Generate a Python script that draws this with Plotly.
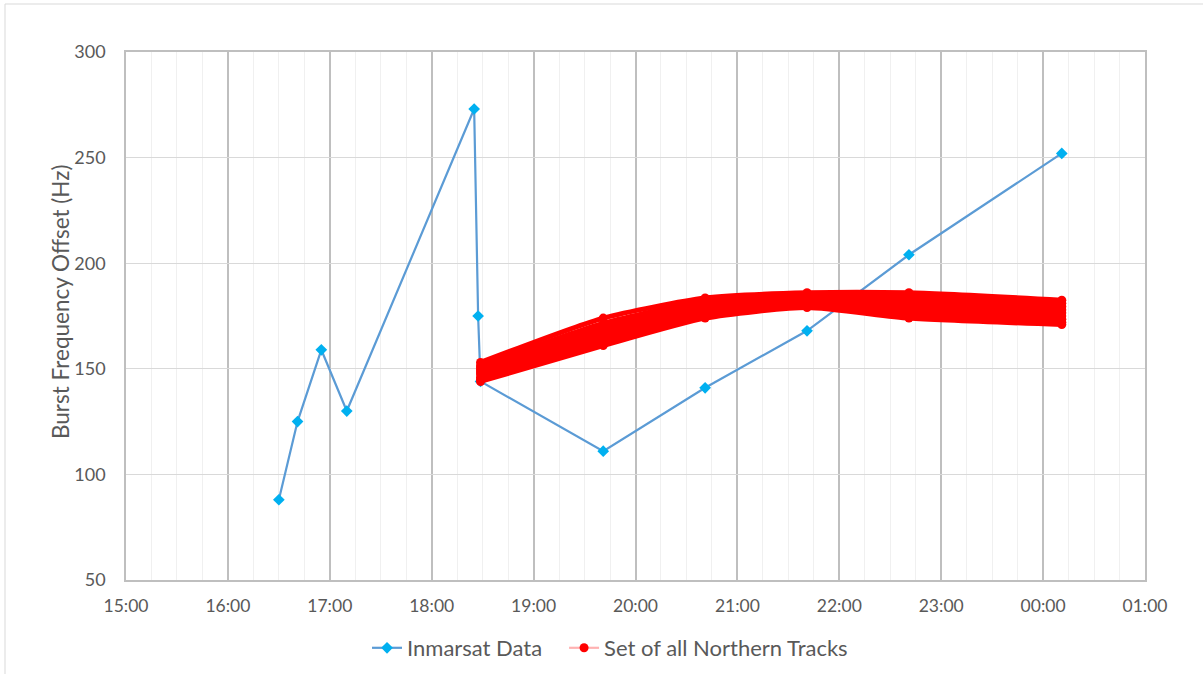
import plotly.graph_objects as go

# ---- Inmarsat data (time, Burst Frequency Offset in Hz) ----
inmarsat_times = [
    "2014-03-07 16:30:00", "2014-03-07 16:41:00", "2014-03-07 16:55:00",
    "2014-03-07 17:10:00", "2014-03-07 18:25:00", "2014-03-07 18:27:20",
    "2014-03-07 18:28:45", "2014-03-07 19:41:00", "2014-03-07 20:41:00",
    "2014-03-07 21:41:00", "2014-03-07 22:41:00", "2014-03-08 00:11:00",
]
inmarsat_bfo = [88, 125, 159, 130, 273, 175, 144, 111, 141, 168, 204, 252]

track_times = [
    "2014-03-07 18:28:45", "2014-03-07 19:41:00", "2014-03-07 20:41:00",
    "2014-03-07 21:41:00", "2014-03-07 22:41:00", "2014-03-08 00:11:00",
]
track_01 = [144.0, 161.0, 174.0, 179.0, 174.0, 171.0]
track_02 = [145.0, 162.5, 175.0, 180.0, 175.5, 172.0]
track_03 = [146.0, 164.0, 176.5, 181.0, 177.0, 173.5]
track_04 = [147.5, 165.5, 177.5, 182.0, 178.5, 175.0]
track_05 = [148.5, 167.0, 178.5, 182.5, 180.0, 176.5]
track_06 = [149.5, 168.5, 179.5, 183.5, 181.5, 178.0]
track_07 = [150.5, 170.0, 180.5, 184.5, 183.0, 179.5]
track_08 = [151.5, 171.5, 182.0, 185.5, 184.5, 181.0]
track_09 = [153.0, 174.0, 183.5, 186.0, 186.0, 182.5]
tracks = [track_01, track_02, track_03, track_04, track_05,
          track_06, track_07, track_08, track_09]

# ---- Axis settings ----
x_start, x_end = "2014-03-07 15:00", "2014-03-08 01:00"
y_min, y_max, y_step = 50, 300, 50
y_title = "Burst Frequency Offset (Hz)"
legend_names = ["Inmarsat Data", "Set of all Northern Tracks"]

FONT = "Lato"
TEXT = "#595959"
NBSP = "\u00a0"

fig = go.Figure()

fig.add_trace(go.Scatter(
    x=inmarsat_times, y=inmarsat_bfo, mode="lines+markers",
    name=legend_names[0] + NBSP * 3,
    line=dict(color="#5b9bd5", width=2.2),
    marker=dict(symbol="diamond", size=9, color="#00b0f0"),
    legendrank=1,
))

for i, tr in enumerate(tracks):
    fig.add_trace(go.Scatter(
        x=track_times, y=tr, mode="lines+markers",
        line=dict(color="#ff0000", width=5, shape="spline", smoothing=0.6),
        marker=dict(symbol="circle", size=9, color="#ff0000"),
        showlegend=False, legendgroup="tracks", hoverinfo="skip",
    ))

# legend entry for the tracks (pale line + red dot, as in the reference)
fig.add_trace(go.Scatter(
    x=[None], y=[None], mode="lines+markers", name=legend_names[1],
    line=dict(color="rgba(255,0,0,0.3)", width=2.2),
    marker=dict(symbol="circle", size=9, color="#ff0000"),
    legendgroup="tracks", legendrank=2,
))

fig.update_layout(
    width=1203, height=674,
    paper_bgcolor="white", plot_bgcolor="white",
    margin=dict(l=126, r=58, t=52, b=94, autoexpand=False),
    font=dict(family=FONT, color=TEXT, size=16),
    legend=dict(orientation="h", x=0.475, xanchor="center",
                y=(580 - 648) / 528, yanchor="middle",
                font=dict(size=22, color=TEXT),
                itemwidth=30, tracegroupgap=0),
    shapes=[dict(type="rect", xref="paper", yref="paper",
                 x0=(5 - 126) / 1019, x1=1.2, y0=-0.3, y1=(580 - 4) / 528,
                 line=dict(color="#d9d9d9", width=1), layer="below")],
    annotations=[dict(text=y_title, textangle=-90, showarrow=False,
                      xref="paper", yref="paper",
                      x=(60 - 126) / 1019, y=(580 - 302) / 528,
                      xanchor="center", yanchor="middle",
                      font=dict(size=22.5, color=TEXT, family=FONT))],
)

fig.update_xaxes(
    type="date", range=[x_start, x_end], automargin=False,
    tickformat="%H:%M", dtick=3600000, tick0=x_start,
    showgrid=True, gridcolor="#bfbfbf", gridwidth=1.5,
    minor=dict(dtick=900000, tick0=x_start, showgrid=True,
               gridcolor="#f0f0f0", gridwidth=1),
    showline=True, linecolor="#bfbfbf", linewidth=1.5, mirror=True,
    ticks="", ticklabelstandoff=9,
    tickfont=dict(size=17.5, color=TEXT, family=FONT),
    zeroline=False,
)
fig.update_yaxes(
    range=[y_min, y_max], dtick=y_step, tick0=y_min, automargin=False,
    showgrid=True, gridcolor="#d9d9d9", gridwidth=1,
    showline=True, linecolor="#bfbfbf", linewidth=1.5, mirror=True,
    ticks="", ticklabelstandoff=15,
    tickfont=dict(size=18, color=TEXT, family=FONT),
    zeroline=False,
)

fig.write_html("out.html",
               config={"displayModeBar": False},
               post_script="document.body.style.margin='0px';"
                           "document.body.style.overflow='hidden';")
